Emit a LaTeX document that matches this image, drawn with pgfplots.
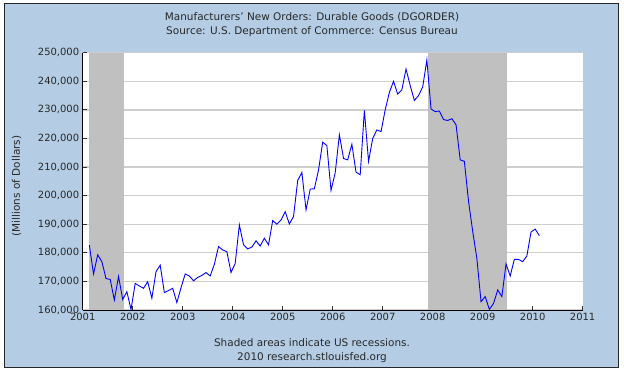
\documentclass[border=0pt]{standalone}
\usepackage{fontspec}
\setmainfont{DejaVu Sans}
\usepackage{pgfplots}
\pgfplotsset{compat=1.18}
\usepackage{pgfplotstable}
\definecolor{bgblue}{RGB}{180,205,228}
\definecolor{recess}{RGB}{192,192,192}
\definecolor{gridgray}{RGB}{206,206,206}
\definecolor{txt}{RGB}{40,40,40}

\pgfplotstableread{
year month value
2001 2 182700
2001 3 172600
2001 4 179300
2001 5 176900
2001 6 171000
2001 7 170700
2001 8 163500
2001 9 171700
2001 10 163700
2001 11 166400
2001 12 160200
2002 1 169300
2002 2 168400
2002 3 167600
2002 4 169900
2002 5 164100
2002 6 173400
2002 7 175700
2002 8 166100
2002 9 166800
2002 10 167600
2002 11 162600
2002 12 167800
2003 1 172600
2003 2 171900
2003 3 170200
2003 4 171400
2003 5 172100
2003 6 173100
2003 7 171900
2003 8 176000
2003 9 182200
2003 10 181000
2003 11 180400
2003 12 173100
2004 1 176300
2004 2 189800
2004 3 182800
2004 4 181400
2004 5 182000
2004 6 184200
2004 7 182400
2004 8 185100
2004 9 182800
2004 10 191300
2004 11 190000
2004 12 191500
2005 1 194400
2005 2 190100
2005 3 192700
2005 4 205300
2005 5 208100
2005 6 195000
2005 7 202300
2005 8 202400
2005 9 209000
2005 10 218700
2005 11 217500
2005 12 201800
2006 1 208000
2006 2 221300
2006 3 213000
2006 4 212500
2006 5 218000
2006 6 208200
2006 7 207300
2006 8 229800
2006 9 212000
2006 10 220000
2006 11 223000
2006 12 222400
2007 1 230000
2007 2 236100
2007 3 240000
2007 4 235500
2007 5 237000
2007 6 244300
2007 7 238500
2007 8 233300
2007 9 235000
2007 10 238000
2007 11 247500
2007 12 230300
2008 1 229400
2008 2 229600
2008 3 226600
2008 4 226300
2008 5 226900
2008 6 224800
2008 7 212500
2008 8 212000
2008 9 198000
2008 10 187500
2008 11 178000
2008 12 162900
2009 1 164700
2009 2 160200
2009 3 162300
2009 4 167000
2009 5 164700
2009 6 176100
2009 7 171900
2009 8 177700
2009 9 177700
2009 10 176900
2009 11 178900
2009 12 187300
2010 1 188300
2010 2 186000
}\dgorder

\begin{document}
\begin{tikzpicture}[x=1bp,y=1bp]
\fill[white] (0,0) rectangle (624,372);
\filldraw[fill=bgblue, draw=black!85, line width=1.2bp] (4.5,4.5) rectangle (618.5,368.5);
\node[text=txt, font=\fontsize{10.5}{12}\selectfont] at (312,355) {Manufacturers' New Orders: Durable Goods (DGORDER)};
\node[text=txt, font=\fontsize{10.5}{12}\selectfont] at (312,340) {Source: U.S. Department of Commerce: Census Bureau};
\node[text=txt, font=\fontsize{10.5}{12}\selectfont] at (312,29) {Shaded areas indicate US recessions.};
\node[text=txt, font=\fontsize{10.5}{12}\selectfont] at (312,14.5) {2010 research.stlouisfed.org};
\begin{axis}[
  at={(82.7bp,62bp)}, anchor=south west,
  width=500bp, height=257.3bp, scale only axis,
  xmin=2001, xmax=2011, ymin=160000, ymax=250000,
  axis x line*=bottom, axis y line*=left,
  axis line style={-, black, line width=0.9bp},
  axis background/.style={fill=white},
  xtick={2001,2002,...,2011},
  ytick={160000,170000,...,250000},
  ymajorgrids, grid style={gridgray, line width=1.3bp},
  tick align=inside, major tick length=4bp,
  tick style={black!80, line width=0.9bp},
  scaled y ticks=false,
  xticklabel style={/pgf/number format/1000 sep=, /pgf/number format/assume math mode=true, font=\fontsize{10}{12}\selectfont, text=txt},
  yticklabel style={/pgf/number format/fixed, /pgf/number format/1000 sep={,}, /pgf/number format/assume math mode=true, font=\fontsize{10}{12}\selectfont, text=txt},
  ylabel={(Millions of Dollars)},
  ylabel style={at={(axis description cs:-0.132,0.482)}, anchor=center, font=\fontsize{10.5}{12}\selectfont, text=txt},
]
\addplot[fill=recess, draw=none] coordinates {(2001.13,160000) (2001.83,160000) (2001.83,250000) (2001.13,250000)} -- cycle;
\addplot[fill=recess, draw=none] coordinates {(2007.9,160000) (2009.49,160000) (2009.49,250000) (2007.9,250000)} -- cycle;
\addplot[color={rgb,255:red,0;green,0;blue,255}, line width=0.9bp] table[x expr=\thisrow{year}+(\thisrow{month}-1)/12+0.05, y=value] {\dgorder};
\end{axis}
\end{tikzpicture}
\end{document}
